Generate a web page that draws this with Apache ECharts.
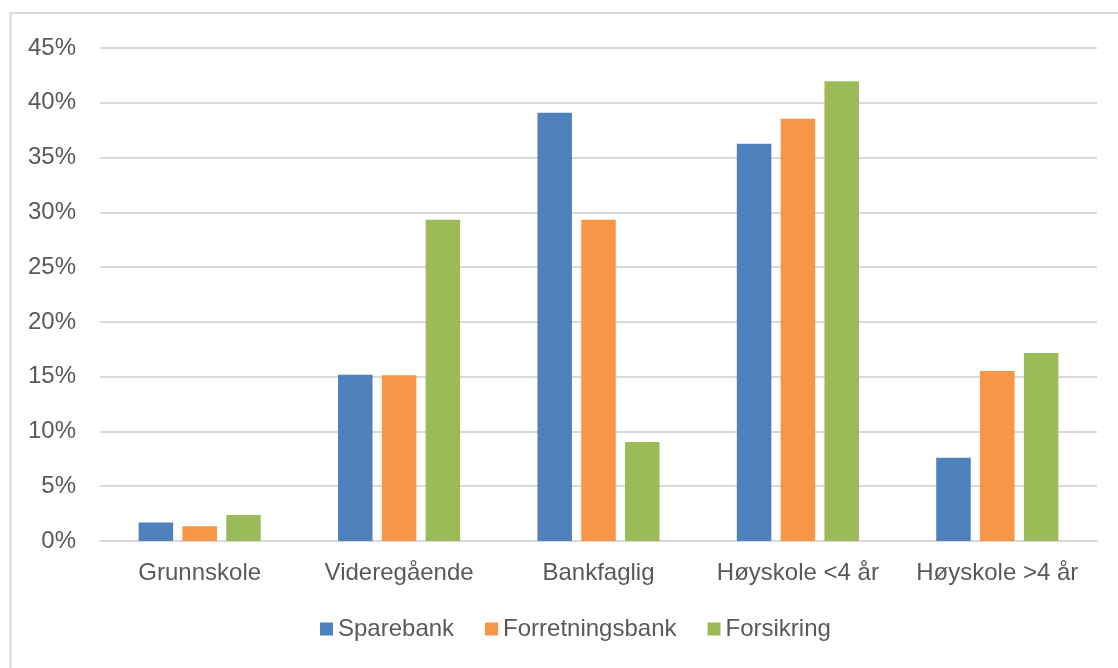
<!DOCTYPE html>
<html>
<head>
<meta charset="utf-8">
<script src="https://cdn.jsdelivr.net/npm/echarts@6/dist/echarts.min.js"></script>
<style>
html,body{margin:0;padding:0;background:#fff;}
#c{width:1118px;height:668px;}
</style>
</head>
<body>
<div id="c"></div>
<script>
const categories = ['Grunnskole', 'Videregående', 'Bankfaglig', 'Høyskole <4 år', 'Høyskole >4 år'];
const sparebank = [1.68, 15.18, 39.1, 36.25, 7.6];
const forretningsbank = [1.34, 15.13, 29.33, 38.54, 15.52];
const forsikring = [2.38, 29.33, 9.03, 41.97, 17.17];
const yTicks = [0, 5, 10, 15, 20, 25, 30, 35, 40, 45];

const chart = echarts.init(document.getElementById('c'), null, {renderer: 'canvas'});
const font = 'Liberation Sans, Arial, Helvetica, sans-serif';
const textColor = '#595959';
chart.setOption({
  animation: false,
  backgroundColor: '#fff',
  graphic: [{
    type: 'rect',
    shape: {x: 10.5, y: 13, width: 1110, height: 700},
    style: {fill: 'none', stroke: '#d9d9d9', lineWidth: 2},
    silent: true
  }],
  grid: {left: 100, right: 21, top: 48, bottom: 127, containLabel: false},
  legend: {
    data: ['Sparebank', 'Forretningsbank', 'Forsikring'],
    top: 617,
    padding: 0,
    left: 320,
    icon: 'rect',
    itemWidth: 13,
    itemHeight: 13,
    itemGap: 31,
    textStyle: {fontFamily: font, fontSize: 24, color: textColor}
  },
  xAxis: {
    type: 'category',
    data: categories,
    axisLine: {lineStyle: {color: '#d9d9d9', width: 2}},
    axisTick: {show: false},
    axisLabel: {fontFamily: font, fontSize: 24, color: textColor, margin: 20, interval: 0}
  },
  yAxis: {
    type: 'value',
    min: yTicks[0],
    max: yTicks[yTicks.length - 1],
    interval: 5,
    axisLine: {show: false},
    axisTick: {show: false},
    splitLine: {lineStyle: {color: '#d9d9d9', width: 2}},
    axisLabel: {fontFamily: font, fontSize: 24, color: textColor, margin: 24, formatter: v => v + '%'}
  },
  series: [
    {name: 'Sparebank', type: 'bar', data: sparebank, barWidth: 34.5, barGap: '27%', itemStyle: {color: '#4F81BD'}},
    {name: 'Forretningsbank', type: 'bar', data: forretningsbank, barWidth: 34.5, barGap: '27%', itemStyle: {color: '#F79646'}},
    {name: 'Forsikring', type: 'bar', data: forsikring, barWidth: 34.5, barGap: '27%', itemStyle: {color: '#9BBB59'}}
  ]
});
</script>
</body>
</html>
